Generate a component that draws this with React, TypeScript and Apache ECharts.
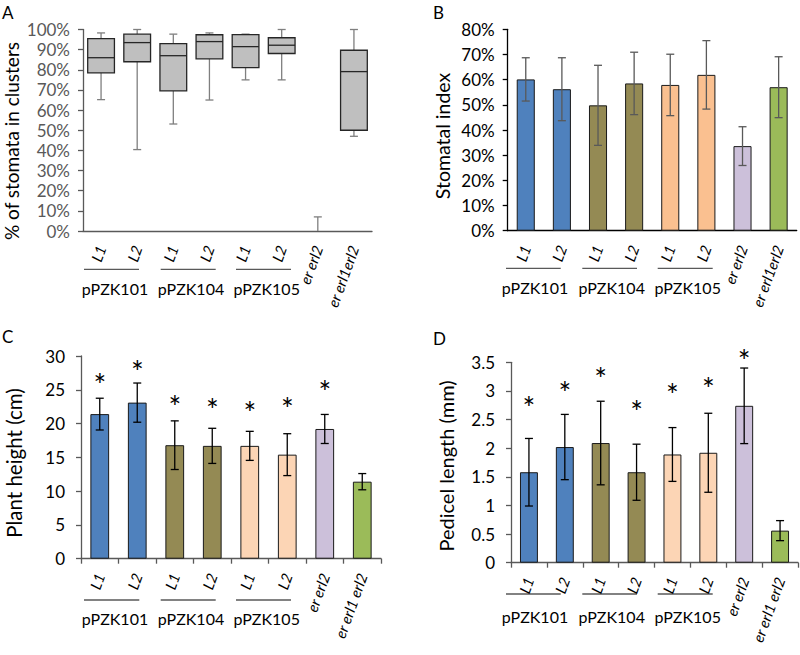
import React, { useEffect, useRef } from 'react';
import * as echarts from 'echarts';

// ---------- categories ----------
const catsAB = ['L1', 'L2', 'L1', 'L2', 'L1', 'L2', 'er erl2', 'er erl1erl2'];
const catsCD = ['L1', 'L2', 'L1', 'L2', 'L1', 'L2', 'er erl2', 'er erl1 erl2'];
const groupNames = ['pPZK101', 'pPZK104', 'pPZK105'];

const colorsB = ['#4F81BD', '#4F81BD', '#948A54', '#948A54', '#FAC090', '#FAC090', '#CCC0DA', '#9BBB59'];
const colorsCD = ['#4F81BD', '#4F81BD', '#948A54', '#948A54', '#FCD5B5', '#FCD5B5', '#CCC0DA', '#9BBB59'];

// ---------- A: % of stomata in clusters (box plot, %) ----------
const boxMin = [65.2, 40.4, 53.1, 65.0, 75.0, 75.0, 0, 47.0];
const boxQ1 = [78.5, 84.0, 69.5, 85.4, 81.1, 88.1, 0, 50.0];
const boxMedian = [86.0, 93.5, 87.0, 94.0, 91.5, 92.2, 0, 79.1];
const boxQ3 = [95.5, 97.7, 93.0, 97.4, 97.5, 95.9, 0, 89.7];
const boxMax = [98.3, 100, 97.7, 98.3, 97.7, 100, 7.0, 100];

// ---------- B: stomatal index (%) ----------
const stomatalIndex = [60.1, 56.2, 49.8, 58.5, 57.9, 61.9, 33.6, 57.0];
const stomatalSD = [8.6, 12.5, 15.9, 12.4, 12.2, 13.6, 7.7, 12.1];

// ---------- C: plant height (cm) ----------
const plantHeight = [21.4, 23.1, 16.8, 16.7, 16.7, 15.4, 19.2, 11.4];
const plantHeightSD = [2.35, 2.9, 3.6, 2.6, 2.15, 3.1, 2.15, 1.2];
const plantHeightStar = [26.85, 28.8, 23.6, 23.2, 22.8, 23.4, 25.9, null];

// ---------- D: pedicel length (mm) ----------
const pedicelLength = [1.58, 2.02, 2.09, 1.58, 1.89, 1.92, 2.74, 0.56];
const pedicelSD = [0.59, 0.57, 0.73, 0.49, 0.47, 0.69, 0.66, 0.175];
const pedicelStar = [2.84, 3.1, 3.35, 2.78, 3.07, 3.18, 3.66, null];

const FONT = 'Lato, "Open Sans", sans-serif';

function errorSeries(idx: number, mean: number[], sd: number[], color: string) {
  return {
    type: 'custom',
    xAxisIndex: idx,
    yAxisIndex: idx,
    z: 5,
    encode: { x: 0, y: [1, 2] },
    data: mean.map((m, i) => [i, m - sd[i], m + sd[i]]),
    renderItem: (params: any, api: any) => {
      const x = api.value(0);
      const lo = api.coord([x, api.value(1)]);
      const hi = api.coord([x, api.value(2)]);
      const hw = 4;
      const style = { stroke: color, lineWidth: 1.3 };
      return {
        type: 'group',
        children: [
          { type: 'line', shape: { x1: hi[0], y1: hi[1], x2: lo[0], y2: lo[1] }, style },
          { type: 'line', shape: { x1: hi[0] - hw, y1: hi[1], x2: hi[0] + hw, y2: hi[1] }, style },
          { type: 'line', shape: { x1: lo[0] - hw, y1: lo[1], x2: lo[0] + hw, y2: lo[1] }, style },
        ],
      };
    },
  };
}

function starSeries(idx: number, stars: (number | null)[]) {
  const data: number[][] = [];
  stars.forEach((s, i) => {
    if (s !== null) data.push([i, s]);
  });
  return {
    type: 'custom',
    xAxisIndex: idx,
    yAxisIndex: idx,
    z: 6,
    encode: { x: 0, y: 1 },
    data,
    renderItem: (params: any, api: any) => {
      const p = api.coord([api.value(0), api.value(1)]);
      return {
        type: 'text',
        x: p[0],
        y: p[1] + 7,
        style: {
          text: '*',
          fontSize: 30,
          fontFamily: FONT,
          fill: '#000',
          align: 'center',
          verticalAlign: 'middle',
        },
      };
    },
  };
}

function barSeries(idx: number, values: number[], colors: string[]) {
  return {
    type: 'bar',
    xAxisIndex: idx,
    yAxisIndex: idx,
    barWidth: '50%',
    z: 2,
    data: values.map((v, i) => ({
      value: v,
      itemStyle: { color: colors[i], borderColor: '#1a1a1a', borderWidth: 1 },
    })),
  };
}

function xAxis(idx: number, cats: string[], ticks: boolean, lineColor: string) {
  return {
    type: 'category',
    gridIndex: idx,
    data: cats,
    axisLine: { show: true, lineStyle: { color: lineColor, width: 1.3 } },
    axisTick: { show: ticks, length: 5, lineStyle: { color: lineColor, width: 1.3 } },
    axisLabel: {
      interval: 0,
      rotate: 70,
      margin: 15,
      fontSize: 15,
      fontStyle: 'italic',
      fontFamily: FONT,
      color: '#000',
    },
  };
}

function yAxis(
  idx: number,
  max: number,
  interval: number,
  fmt: any,
  labelColor: string,
  lineColor: string,
  margin: number
) {
  return {
    type: 'value',
    gridIndex: idx,
    min: 0,
    max,
    interval,
    splitLine: { show: false },
    axisLine: { show: true, lineStyle: { color: lineColor, width: 1.3 } },
    axisTick: { show: true, length: 5, lineStyle: { color: lineColor, width: 1.3 } },
    axisLabel: { formatter: fmt, fontSize: 17, fontFamily: FONT, color: labelColor, margin },
  };
}

function groupGraphics(lineY: number, labelY: number, spans: number[][]) {
  const out: any[] = [];
  spans.forEach((s, i) => {
    out.push({
      type: 'line',
      shape: { x1: s[0], y1: lineY, x2: s[1], y2: lineY },
      style: { stroke: '#595959', lineWidth: 1.3 },
    });
    out.push({
      type: 'text',
      x: s[2],
      y: labelY,
      style: {
        text: groupNames[i],
        fontSize: 16,
        fontFamily: FONT,
        fill: '#000',
        align: 'center',
        verticalAlign: 'middle',
      },
    });
  });
  return out;
}

function vTitle(text: string, x: number, y: number, size: number) {
  return {
    type: 'text',
    x,
    y,
    rotation: Math.PI / 2,
    style: { text, fontSize: size, fontFamily: FONT, fill: '#000', align: 'center', verticalAlign: 'middle' },
  };
}

function letter(text: string, x: number, y: number) {
  return {
    type: 'text',
    x,
    y,
    style: { text, fontSize: 17, fontFamily: FONT, fill: '#000', align: 'left', verticalAlign: 'top' },
  };
}

export default function App() {
  const ref = useRef<HTMLDivElement>(null);

  useEffect(() => {
    if (!ref.current) return;
    const chart = echarts.init(ref.current, null, { renderer: 'svg' });

    const boxSeries = {
      type: 'custom',
      xAxisIndex: 0,
      yAxisIndex: 0,
      z: 3,
      encode: { x: 0, y: [1, 2, 3, 4, 5] },
      data: boxMin.map((m, i) => [i, m, boxQ1[i], boxMedian[i], boxQ3[i], boxMax[i]]),
      renderItem: (params: any, api: any) => {
        const x = api.value(0);
        const pMin = api.coord([x, api.value(1)]);
        const pQ1 = api.coord([x, api.value(2)]);
        const pMed = api.coord([x, api.value(3)]);
        const pQ3 = api.coord([x, api.value(4)]);
        const pMax = api.coord([x, api.value(5)]);
        const w = api.size([1, 0])[0] * 0.74;
        const cx = pMin[0];
        const cap = 4;
        const wStyle = { stroke: '#7f7f7f', lineWidth: 1.3 };
        const bStyle = { stroke: '#262626', lineWidth: 1.3 };
        const children: any[] = [
          { type: 'line', shape: { x1: cx, y1: pMax[1], x2: cx, y2: pQ3[1] }, style: wStyle },
          { type: 'line', shape: { x1: cx, y1: pQ1[1], x2: cx, y2: pMin[1] }, style: wStyle },
          { type: 'line', shape: { x1: cx - cap, y1: pMax[1], x2: cx + cap, y2: pMax[1] }, style: wStyle },
        ];
        if (pQ1[1] - pQ3[1] > 0.5) {
          children.push({
            type: 'line',
            shape: { x1: cx - cap, y1: pMin[1], x2: cx + cap, y2: pMin[1] },
            style: wStyle,
          });
          children.push({
            type: 'rect',
            shape: { x: cx - w / 2, y: pQ3[1], width: w, height: pQ1[1] - pQ3[1] },
            style: { fill: '#BFBFBF', stroke: '#262626', lineWidth: 1.3 },
          });
          children.push({
            type: 'line',
            shape: { x1: cx - w / 2, y1: pMed[1], x2: cx + w / 2, y2: pMed[1] },
            style: bStyle,
          });
        }
        return { type: 'group', children };
      },
    };

    const option: any = {
      animation: false,
      textStyle: { fontFamily: FONT },
      grid: [
        { left: 83, top: 29.5, width: 289, height: 201.5 },
        { left: 507.7, top: 29.3, width: 289, height: 201.4 },
        { left: 81, top: 356, width: 300, height: 202.7 },
        { left: 511, top: 362.3, width: 287, height: 200.4 },
      ],
      xAxis: [
        xAxis(0, catsAB, false, '#595959'),
        xAxis(1, catsAB, false, '#000'),
        xAxis(2, catsCD, true, '#595959'),
        xAxis(3, catsCD, true, '#595959'),
      ],
      yAxis: [
        yAxis(0, 100, 10, '{value}%', '#595959', '#595959', 13),
        yAxis(1, 80, 10, '{value}%', '#000', '#000', 13),
        yAxis(2, 30, 5, '{value}', '#000', '#595959', 16),
        yAxis(3, 3.5, 0.5, '{value}', '#000', '#595959', 16),
      ],
      series: [
        boxSeries,
        barSeries(1, stomatalIndex, colorsB),
        errorSeries(1, stomatalIndex, stomatalSD, '#595959'),
        barSeries(2, plantHeight, colorsCD),
        errorSeries(2, plantHeight, plantHeightSD, '#000'),
        starSeries(2, plantHeightStar),
        barSeries(3, pedicelLength, colorsCD),
        errorSeries(3, pedicelLength, pedicelSD, '#000'),
        starSeries(3, pedicelStar),
      ],
      graphic: [
        letter('A', 2, 4),
        letter('B', 433, 4),
        letter('C', 2, 328),
        letter('D', 433, 330),
        vTitle('% of stomata in clusters', 11, 141, 19),
        vTitle('Stomatal index', 442, 136, 19.5),
        vTitle('Plant height (cm)', 14, 463, 20.5),
        vTitle('Pedicel length (mm)', 446, 466, 20),
        ...groupGraphics(269.3, 288, [[84, 139, 115], [160.7, 215.7, 191], [236, 291, 266.7]]),
        ...groupGraphics(268.3, 287.3, [[506, 560.7, 535], [582.3, 637, 611.7], [657.7, 712.7, 687.7]]),
        ...groupGraphics(600, 618.3, [[84, 139.3, 115], [160.7, 215.7, 191], [236, 291, 266.7]]),
        ...groupGraphics(594, 616.7, [[506, 560.7, 535], [582.3, 637, 611.7], [657.7, 712.7, 687.7]]),
      ],
    };

    chart.setOption(option);
    return () => chart.dispose();
  }, []);

  return (
    <div
      ref={ref}
      style={{ position: 'absolute', left: 0, top: 0, width: 800, height: 655, background: '#fff' }}
    />
  );
}
